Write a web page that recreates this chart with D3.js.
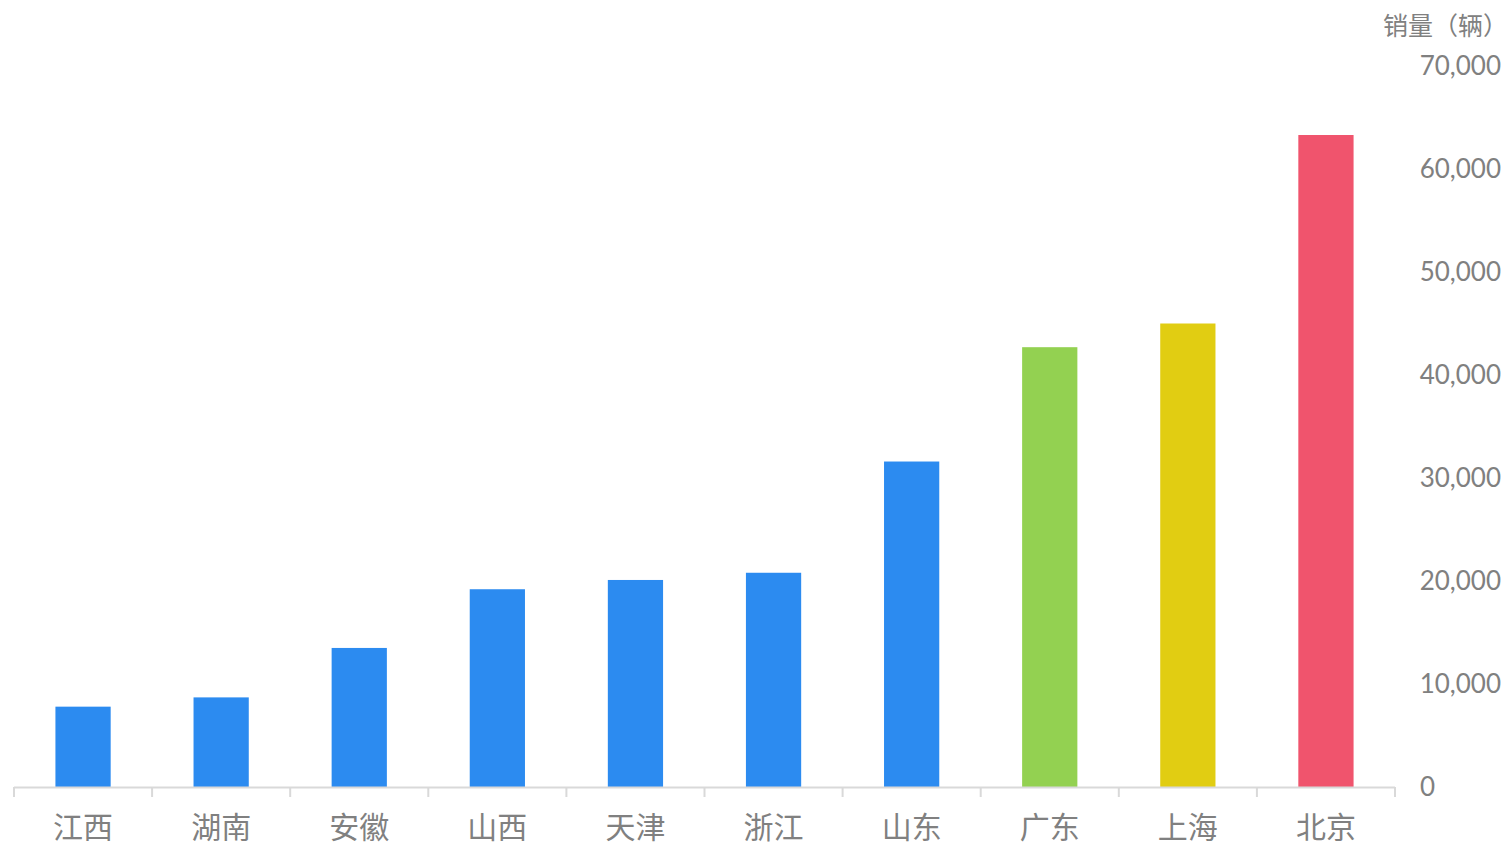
<!DOCTYPE html>
<html>
<head>
<meta charset="utf-8">
<script src="https://cdn.jsdelivr.net/npm/d3@7"></script>
<style>
  body { margin: 0; background: #fff; }
  svg text { fill: #808080; }
</style>
</head>
<body>
<svg id="chart" width="1507" height="849"></svg>
<script>
// sales per province (vehicles)
const provinces = ["江西", "湖南", "安徽", "山西", "天津", "浙江", "山东", "广东", "上海", "北京"];
const sales = [7800, 8700, 13500, 19200, 20100, 20800, 31600, 42700, 45000, 63300];
const barColors = ["#2c8bf0", "#2c8bf0", "#2c8bf0", "#2c8bf0", "#2c8bf0", "#2c8bf0", "#2c8bf0", "#93d151", "#e1cd12", "#f0546d"];
const yTicks = [0, 10000, 20000, 30000, 40000, 50000, 60000, 70000];
const yTitle = "销量（辆）";

const svg = d3.select("#chart");
const cjk = '"Noto Sans CJK SC", sans-serif';
const num = 'Lato, "Noto Sans", sans-serif';

const x = d3.scaleBand().domain(provinces).range([14, 1395]).padding(0);
const y = d3.scaleLinear().domain([0, 70000]).range([787, 66]);

// bars
const barW = x.bandwidth() * 0.4;
svg.append("g").selectAll("rect")
  .data(provinces)
  .join("rect")
  .attr("x", d => x(d) + (x.bandwidth() - barW) / 2)
  .attr("y", (d, i) => y(sales[i]))
  .attr("width", barW)
  .attr("height", (d, i) => y(0) - y(sales[i]))
  .attr("fill", (d, i) => barColors[i]);

// x axis: baseline + boundary ticks
const xg = svg.append("g");
xg.append("line")
  .attr("x1", 14).attr("x2", 1395)
  .attr("y1", y(0) + 0.5).attr("y2", y(0) + 0.5)
  .attr("stroke", "#d9d9d9").attr("stroke-width", 2);
const bounds = provinces.map(d => x(d)).concat([x.range()[1]]);
xg.selectAll(".tk")
  .data(bounds)
  .join("line")
  .attr("x1", d => d).attr("x2", d => d)
  .attr("y1", y(0)).attr("y2", y(0) + 10)
  .attr("stroke", "#d9d9d9").attr("stroke-width", 2);
xg.selectAll("text")
  .data(provinces)
  .join("text")
  .attr("x", d => x(d) + x.bandwidth() / 2)
  .attr("y", 838)
  .attr("text-anchor", "middle")
  .style("font-family", cjk)
  .style("font-size", "30px")
  .text(d => d);

// y axis labels on the right
const fmt = d3.format(",");
svg.append("g").selectAll("text")
  .data(yTicks)
  .join("text")
  .attr("x", d => d === 0 ? 1420 : 1501)
  .attr("y", d => y(d))
  .attr("dy", "0.35em")
  .attr("text-anchor", d => d === 0 ? "start" : "end")
  .style("font-family", num)
  .style("font-size", "26px")
  .text(d => fmt(d));

svg.append("text")
  .attr("x", 1508)
  .attr("y", 26)
  .attr("dy", "0.35em")
  .attr("text-anchor", "end")
  .style("font-family", cjk)
  .style("font-size", "25px")
  .text(yTitle);
</script>
</body>
</html>
